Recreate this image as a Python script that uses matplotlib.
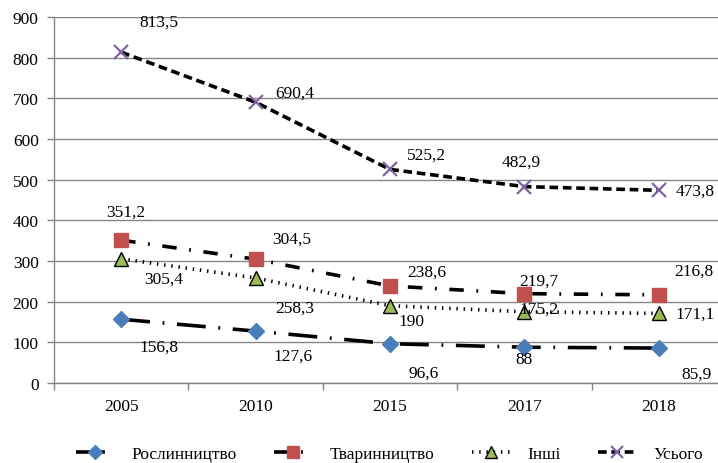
import matplotlib
matplotlib.use("Agg")
import matplotlib.pyplot as plt
from matplotlib.ticker import FixedLocator

plt.rcParams['font.family'] = ['Liberation Serif', 'DejaVu Serif']

years = ['2005', '2010', '2015', '2017', '2018']
roslyn = [156.8, 127.6, 96.6, 88, 85.9]
tvaryn = [351.2, 304.5, 238.6, 219.7, 216.8]
inshi = [305.4, 258.3, 190, 175.2, 171.1]
usogo = [813.5, 690.4, 525.2, 482.9, 473.8]
names = ['Рослинництво', 'Тваринництво', 'Інші', 'Усього']
yticks = [0, 100, 200, 300, 400, 500, 600, 700, 800, 900]

# label offsets in pixels (dx, dy) relative to points
off_r = [(38, -27), (37, -25), (34, -29), (0, -12), (38, -26)]
off_t = [(5, 29), (36, 21), (37, 14), (14, 13), (35, 24)]
off_i = [(42, -20), (39, -30), (21, -15), (15, 3), (36, 0)]
off_u = [(38, 31), (39, 10), (37, 15), (-3, 25), (36, 0)]

FS = 12.5
fig = plt.figure(figsize=(7.18, 4.64), dpi=100)
ax = fig.add_axes([54/718, 80/464, 672/718, 366/464])
x = list(range(len(years)))

lw = 2.6
styles = [
    dict(data=roslyn, ls=(0, (8, 3.5, 0.5, 3.5)), marker='D', mfc='#4a7ebb', mec='#4a7ebb', ms=8.5, off=off_r),
    dict(data=tvaryn, ls=(0, (4, 3.5, 0.5, 3.5)), marker='s', mfc='#c0504d', mec='#c0504d', ms=10.5, off=off_t),
    dict(data=inshi, ls=(0, (0.4, 1.6)), marker='^', mfc='#9bbb59', mec='black', ms=10.5, off=off_i),
    dict(data=usogo, ls=(0, (2.4, 1.3)), marker='x', mfc='#8064a2', mec='#8064a2', ms=9.5, off=off_u),
]
for name, st in zip(names, styles):
    ax.plot(x, st['data'], color='black', lw=lw, linestyle=st['ls'], marker=st['marker'],
            markerfacecolor=st['mfc'], markeredgecolor=st['mec'], markersize=st['ms'],
            markeredgewidth=1.0 if st['marker'] != 'x' else 1.6, label=name, zorder=3)
    for xi, v, (dx, dy) in zip(x, st['data'], st['off']):
        ax.annotate(f"{v:g}".replace('.', ','), (xi, v), xytext=(dx * 0.72, dy * 0.72),
                    textcoords='offset points', ha='center', va='center', fontsize=FS, zorder=4)

ax.set_xlim(-0.5, len(years) - 0.5)
ax.set_ylim(0, 900)
ax.set_yticks(yticks)
ax.set_yticklabels([str(t) for t in yticks], fontsize=FS)
ax.set_xticks(x)
ax.set_xticklabels(years, fontsize=FS)
ax.tick_params(axis='x', which='major', length=0, pad=11)
ax.xaxis.set_minor_locator(FixedLocator([i - 0.5 for i in range(len(years) + 1)]))
ax.tick_params(axis='x', which='minor', length=5, color='#868686', width=1)
ax.tick_params(axis='y', length=5, color='#868686', width=1, pad=6)
ax.grid(axis='y', color='#868686', lw=1)
ax.set_axisbelow(True)
for s in ['top', 'right']:
    ax.spines[s].set_visible(False)
for s in ['left', 'bottom']:
    ax.spines[s].set_color('#868686')
    ax.spines[s].set_linewidth(1)

leg = fig.legend(loc='center left', bbox_to_anchor=(76/718, 9/464), ncol=4, frameon=False,
                 fontsize=FS, handlelength=2.2, columnspacing=2.15, handletextpad=1.0,
                 borderaxespad=0, borderpad=0, markerscale=0.85)

fig.savefig('out.png', dpi=100)
